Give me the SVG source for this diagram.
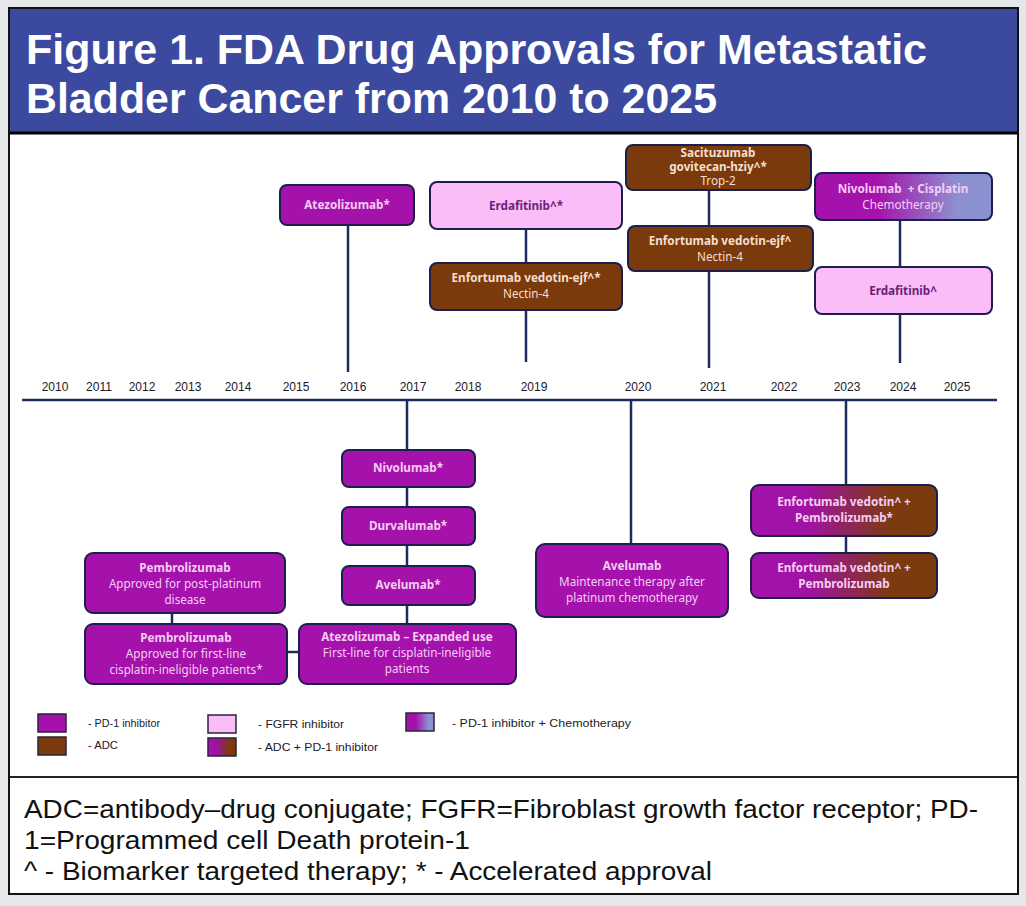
<svg xmlns="http://www.w3.org/2000/svg" width="1026" height="906" viewBox="0 0 1026 906">
<defs>
<linearGradient id="gChemo" x1="0" y1="0" x2="1" y2="0">
<stop offset="0" stop-color="#a412ab"/><stop offset="0.35" stop-color="#a412ab"/><stop offset="0.8" stop-color="#8d90d0"/><stop offset="1" stop-color="#8a92d2"/>
</linearGradient>
<linearGradient id="gAdc" x1="0" y1="0" x2="1" y2="0">
<stop offset="0" stop-color="#a412ab"/><stop offset="0.3" stop-color="#a012a4"/><stop offset="0.75" stop-color="#7c3a10"/><stop offset="1" stop-color="#7b3a0b"/>
</linearGradient>
<style>
.box{stroke:#1c1f4e;stroke-width:2}
.pd1{fill:#a412ab}
.adc{fill:#7b3a0b}
.fgfr{fill:#fbbdf8}
.t{font-family:"Noto Sans","Open Sans","DejaVu Sans",sans-serif;font-size:11.7px;text-anchor:middle}
.b{font-weight:bold}
.tp{fill:#f6cdf4}
.ta{fill:#f4dfcf}
.tf{fill:#6a1f7e}
.conn{stroke:#1f2b5c;stroke-width:2.5;fill:none}
.yr{font-family:"Liberation Sans Narrow","Liberation Sans",Arial,sans-serif;font-size:12px;fill:#1a1a2a;text-anchor:middle}
.lg{font-family:"Liberation Sans Narrow","Liberation Sans",Arial,sans-serif;font-size:11px;fill:#1a1a2a}
.sw{stroke:#2a2340;stroke-width:1.5}
.ft{font-family:"Liberation Sans Narrow","Liberation Sans",Arial,sans-serif;font-size:26px;fill:#111}
</style>
</defs>
<rect x="0" y="0" width="1026" height="906" fill="#e5e7ea"/>
<rect x="9" y="8" width="1009" height="886" fill="#ffffff" stroke="#111" stroke-width="2"/>
<rect x="10" y="9" width="1007" height="123" fill="#3b4a9f"/>
<line x1="10" y1="133" x2="1017" y2="133" stroke="#000" stroke-width="3"/>
<line x1="10" y1="777" x2="1017" y2="777" stroke="#222" stroke-width="2"/>
<g id="title" font-family="'Liberation Sans Narrow','Liberation Sans',Arial,sans-serif" font-weight="bold" font-size="42" fill="#ffffff">
<text x="26" y="64" textLength="901" lengthAdjust="spacingAndGlyphs">Figure 1. FDA Drug Approvals for Metastatic</text>
<text x="26" y="113" textLength="691" lengthAdjust="spacingAndGlyphs">Bladder Cancer from 2010 to 2025</text>
</g>
<g id="connectors">
<line class="conn" x1="22" y1="400" x2="997" y2="400" stroke-width="3"/>
<line class="conn" x1="348" y1="225" x2="348" y2="372"/>
<line class="conn" x1="526" y1="229" x2="526" y2="263"/>
<line class="conn" x1="526" y1="310" x2="526" y2="362"/>
<line class="conn" x1="709" y1="190" x2="709" y2="226"/>
<line class="conn" x1="709" y1="271" x2="709" y2="368"/>
<line class="conn" x1="900" y1="220" x2="900" y2="267"/>
<line class="conn" x1="900" y1="314" x2="900" y2="363"/>
<line class="conn" x1="407" y1="400" x2="407" y2="624"/>
<line class="conn" x1="631" y1="400" x2="631" y2="544"/>
<line class="conn" x1="846" y1="400" x2="846" y2="553"/>
<line class="conn" x1="172" y1="613" x2="172" y2="624"/>
<line class="conn" x1="287" y1="652" x2="299" y2="652"/>
</g>
<g id="years">
<text class="yr" x="55" y="391">2010</text>
<text class="yr" x="99" y="391">2011</text>
<text class="yr" x="142" y="391">2012</text>
<text class="yr" x="188" y="391">2013</text>
<text class="yr" x="238" y="391">2014</text>
<text class="yr" x="296" y="391">2015</text>
<text class="yr" x="353" y="391">2016</text>
<text class="yr" x="413" y="391">2017</text>
<text class="yr" x="468" y="391">2018</text>
<text class="yr" x="534" y="391">2019</text>
<text class="yr" x="638" y="391">2020</text>
<text class="yr" x="713" y="391">2021</text>
<text class="yr" x="784" y="391">2022</text>
<text class="yr" x="847" y="391">2023</text>
<text class="yr" x="903" y="391">2024</text>
<text class="yr" x="957" y="391">2025</text>
</g>
<g id="atezolizumab-2016">
<rect class="box pd1" x="280" y="185" width="134" height="40" rx="7"/>
<text class="t b tp" x="347" y="209">Atezolizumab*</text>
</g>
<g id="erdafitinib-2019">
<rect class="box fgfr" x="430" y="182" width="192" height="47" rx="7"/>
<text class="t b tf" x="526" y="210">Erdafitinib^*</text>
</g>
<g id="enfortumab-2019">
<rect class="box adc" x="430" y="263" width="192" height="47" rx="7"/>
<text class="t b ta" x="526" y="282">Enfortumab vedotin-ejf^*</text>
<text class="t ta" x="526" y="298">Nectin-4</text>
</g>
<g id="sacituzumab-2021">
<rect class="box adc" x="626" y="145" width="185" height="45" rx="7"/>
<text class="t b ta" x="718" y="157">Sacituzumab</text>
<text class="t b ta" x="718" y="171">govitecan-hziy^*</text>
<text class="t ta" x="718" y="185">Trop-2</text>
</g>
<g id="enfortumab-2021">
<rect class="box adc" x="628" y="226" width="185" height="45" rx="7"/>
<text class="t b ta" x="720" y="245">Enfortumab vedotin-ejf^</text>
<text class="t ta" x="720" y="261">Nectin-4</text>
</g>
<g id="nivolumab-cisplatin-2024">
<rect class="box" fill="url(#gChemo)" x="815" y="173" width="177" height="47" rx="7"/>
<text class="t b tp" x="903" y="193" xml:space="preserve">Nivolumab  + Cisplatin</text>
<text class="t tp" x="903" y="209">Chemotherapy</text>
</g>
<g id="erdafitinib-2024">
<rect class="box fgfr" x="815" y="267" width="177" height="47" rx="7"/>
<text class="t b tf" x="903" y="295">Erdafitinib^</text>
</g>
<g id="nivolumab-2017">
<rect class="box pd1" x="342" y="450" width="133" height="37" rx="7"/>
<text class="t b tp" x="408" y="472">Nivolumab*</text>
</g>
<g id="durvalumab-2017">
<rect class="box pd1" x="342" y="507" width="133" height="38" rx="7"/>
<text class="t b tp" x="408" y="530">Durvalumab*</text>
</g>
<g id="avelumab-2017">
<rect class="box pd1" x="342" y="566" width="133" height="39" rx="7"/>
<text class="t b tp" x="408" y="589">Avelumab*</text>
</g>
<g id="atezolizumab-expanded">
<rect class="box pd1" x="299" y="624" width="217" height="60" rx="8"/>
<text class="t b tp" x="407" y="641">Atezolizumab – Expanded use</text>
<text class="t tp" x="407" y="657">First-line for cisplatin-ineligible</text>
<text class="t tp" x="407" y="673">patients</text>
</g>
<g id="pembrolizumab-post-platinum">
<rect class="box pd1" x="85" y="553" width="200" height="60" rx="8"/>
<text class="t b tp" x="185" y="572">Pembrolizumab</text>
<text class="t tp" x="185" y="588">Approved for post-platinum</text>
<text class="t tp" x="185" y="604">disease</text>
</g>
<g id="pembrolizumab-first-line">
<rect class="box pd1" x="85" y="624" width="202" height="60" rx="8"/>
<text class="t b tp" x="186" y="642">Pembrolizumab</text>
<text class="t tp" x="186" y="658">Approved for first-line</text>
<text class="t tp" x="186" y="674">cisplatin-ineligible patients*</text>
</g>
<g id="avelumab-2020">
<rect class="box pd1" x="536" y="544" width="192" height="73" rx="9"/>
<text class="t b tp" x="632" y="570">Avelumab</text>
<text class="t tp" x="632" y="586">Maintenance therapy after</text>
<text class="t tp" x="632" y="602">platinum chemotherapy</text>
</g>
<g id="ev-pembro-accelerated">
<rect class="box" fill="url(#gAdc)" x="751" y="485" width="186" height="51" rx="8"/>
<text class="t b tp" x="844" y="506">Enfortumab vedotin^ +</text>
<text class="t b tp" x="844" y="522">Pembrolizumab*</text>
</g>
<g id="ev-pembro">
<rect class="box" fill="url(#gAdc)" x="751" y="553" width="186" height="45" rx="8"/>
<text class="t b tp" x="844" y="572">Enfortumab vedotin^ +</text>
<text class="t b tp" x="844" y="588">Pembrolizumab</text>
</g>
<g id="legend">
<rect class="sw pd1" x="38" y="714" width="28" height="18"/>
<text class="lg" x="88" y="727" textLength="72" lengthAdjust="spacingAndGlyphs">- PD-1 inhibitor</text>
<rect class="sw adc" x="38" y="737" width="28" height="18"/>
<text class="lg" x="88" y="749" textLength="30" lengthAdjust="spacingAndGlyphs">- ADC</text>
<rect class="sw fgfr" x="208" y="715" width="28" height="18"/>
<text class="lg" x="258" y="728" textLength="86" lengthAdjust="spacingAndGlyphs">- FGFR inhibitor</text>
<rect class="sw" fill="url(#gAdc)" x="208" y="738" width="28" height="18"/>
<text class="lg" x="258" y="751" textLength="120" lengthAdjust="spacingAndGlyphs">- ADC + PD-1 inhibitor</text>
<rect class="sw" fill="url(#gChemo)" x="406" y="713" width="28" height="18"/>
<text class="lg" x="452" y="727" textLength="179" lengthAdjust="spacingAndGlyphs">- PD-1 inhibitor + Chemotherapy</text>
</g>
<g id="footer">
<text class="ft" x="24" y="818" textLength="954" lengthAdjust="spacingAndGlyphs">ADC=antibody–drug conjugate; FGFR=Fibroblast growth factor receptor; PD-</text>
<text class="ft" x="24" y="849" textLength="446" lengthAdjust="spacingAndGlyphs">1=Programmed cell Death protein-1</text>
<text class="ft" x="24" y="880" textLength="688" lengthAdjust="spacingAndGlyphs">^ - Biomarker targeted therapy; * - Accelerated approval</text>
</g>
</svg>
